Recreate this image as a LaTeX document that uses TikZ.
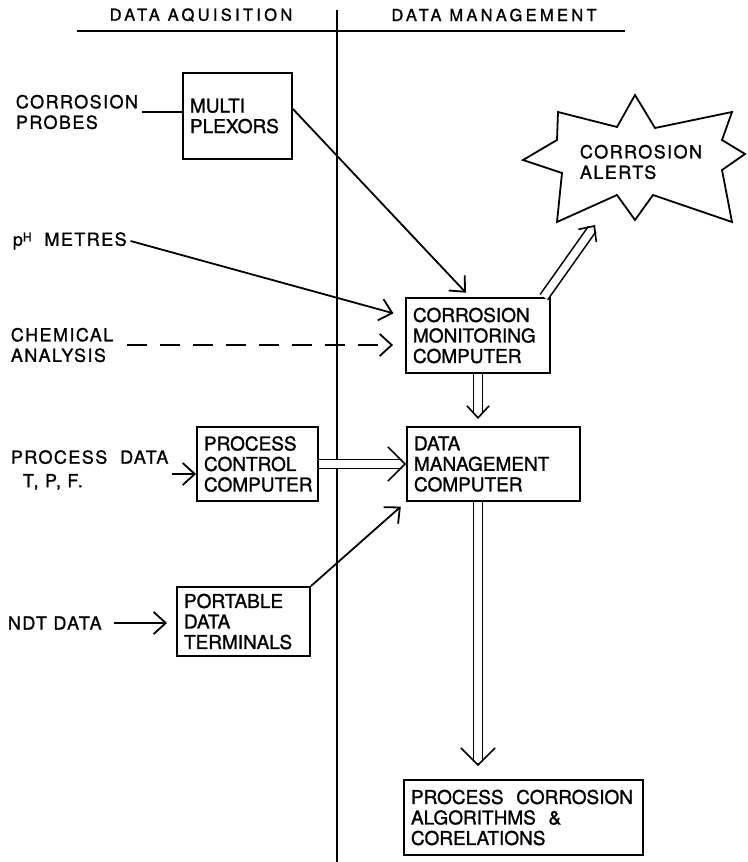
\documentclass[tikz,border=0pt]{standalone}
\usepackage{fontspec}
\setmainfont{TeX Gyre Heros}[FakeBold=1.2]
\newfontfamily\lblfont{TeX Gyre Heros}[LetterSpace=8.0, FakeBold=1.2]
\newfontfamily\headfont{TeX Gyre Heros}[LetterSpace=20.0, FakeBold=1.2]
\usetikzlibrary{arrows.meta,calc}

\begin{document}
\begin{tikzpicture}[x=1pt, y=-1pt, line width=1.8pt,
    box/.style={draw, line width=1.9pt, align=left, inner xsep=7pt, inner ysep=0pt,
      font=\fontsize{19}{20.5}\selectfont},
    lbl/.style={align=left, inner sep=3pt, font=\lblfont\fontsize{18}{20.5}\selectfont},
    head/.style={font=\headfont\fontsize{16.5}{16.5}\selectfont},
    arr/.style={-{Straight Barb[length=12pt,width=22pt]}},
    dbl/.style={double, double distance=7.5pt, line width=1.6pt},
    bighead/.style={line width=1.6pt, -{Straight Barb[length=17pt,width=34pt]}},
    smallhead/.style={line width=1.6pt, -{Straight Barb[length=12pt,width=22pt]}}]
  \useasboundingbox (0,0) rectangle (747,862);

  \node[head] (acq) at (201,15) {DATA AQUISITION};
  \node[head] (mgt) at (494,15) {DATA MANAGEMENT};
  \draw (77,31) -- (625,31);
  \draw (337,10) -- (337,862);

  \node[box, text width=95pt, minimum height=86pt] (mux) at (237.5,116) {MULTI\\PLEXORS};
  \node[box, text width=130pt, minimum height=75pt] (cmc) at (478,335.5) {CORROSION\\MONITORING\\COMPUTER};
  \node[box, text width=107pt, minimum height=74pt] (pcc) at (257.5,464) {PROCESS\\CONTROL\\COMPUTER};
  \node[box, text width=159pt, minimum height=74pt] (dmc) at (493.5,464) {DATA\\MANAGEMENT\\COMPUTER};
  \node[box, text width=119pt, minimum height=69pt] (pdt) at (243.5,621.5) {PORTABLE\\DATA\\TERMINALS};
  \node[box, text width=225pt, minimum height=75pt] (pca) at (523.5,817.5) {PROCESS\ \ CORROSION\\ALGORITHMS\ \ \&\\CORELATIONS};

  \draw (635,95) -- (655,128) -- (732,112) -- (722,140) -- (745,154) -- (722,170)
    -- (732,222) -- (653,195) -- (635,220) -- (617,195) -- (557,222) -- (562,173)
    -- (523,160) -- (557,140) -- (558,112) -- (617,127) -- cycle;
  \node[lbl] (alerts) at (641,162) {CORROSION\\ALERTS};

  \node[lbl, anchor=west] (probes) at (12,112) {CORROSION\\PROBES};
  \node[lbl, anchor=west] (ph) at (9,241) {p\raisebox{4.5pt}{\fontsize{12}{12}\selectfont H}\ \ METRES};
  \node[lbl, anchor=west] (chem) at (7,345) {CHEMICAL\\ANALYSIS};
  \node[lbl, anchor=west] (pdata) at (7,470) {PROCESS\ \ DATA\\[3pt]\hspace*{12pt}T, P, F.};
  \node[lbl, anchor=west] (ndt) at (4,623) {NDT DATA};

  \coordinate (dmcin) at ($(cmc.south |- dmc.north)+(0,-7)$);
  \coordinate (pcain) at ($(cmc.south |- pca.north)+(0,-13)$);
  \coordinate (alertin) at (595,225);

  \draw (probes.east) -- (probes.east -| mux.west);
  \draw[arr, shorten >=6pt] ([yshift=7pt]mux.east) -- ([xshift=-8pt]cmc.north);
  \draw[arr, shorten >=12pt] (ph.east) -- ([yshift=19pt]cmc.west);
  \draw[arr, dash pattern=on 20pt off 13pt, shorten <=10pt, shorten >=12pt] (chem.east) -- (chem.east -| cmc.west);
  \draw[arr] ([yshift=-4pt]pdata.east) -- ([yshift=-4pt]pdata.east -| pcc.west);
  \draw[arr, shorten <=9pt, shorten >=9pt] (ndt.east) -- (ndt.east -| pdt.west);
  \draw[arr, shorten >=7pt] (pdt.north east) -- (dmc.south west);

  \draw[dbl, shorten >=4pt] (pcc.east) -- (dmc.west) coordinate[pos=0.98] (pcchd);
  \draw[bighead] (pcchd) -- (dmc.west);
  \draw[dbl, shorten >=5pt] (cmc.south) -- (dmcin) coordinate[pos=0.95] (cmchd);
  \draw[smallhead] (cmchd) -- (dmcin);
  \draw[dbl, shorten >=4pt] (cmc.south |- dmc.south) -- (pcain) coordinate[pos=0.99] (dmchd);
  \draw[bighead] (dmchd) -- (pcain);
  \draw[dbl, shorten >=5pt] ([xshift=-7pt]cmc.north east) -- (alertin) coordinate[pos=0.97] (alerthd);
  \draw[smallhead] (alerthd) -- (alertin);
\end{tikzpicture}
\end{document}
